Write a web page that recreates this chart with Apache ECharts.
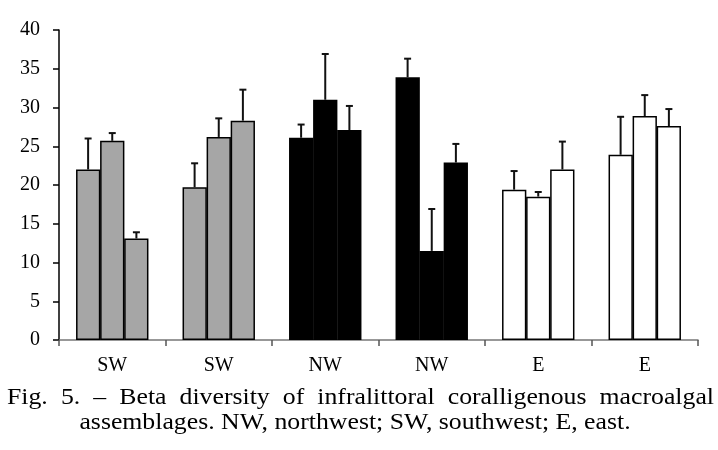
<!DOCTYPE html>
<html>
<head>
<meta charset="utf-8">
<script src="https://cdn.jsdelivr.net/npm/echarts@6/dist/echarts.min.js"></script>
<style>html,body{margin:0;padding:0;background:#fff;}#c{width:718px;height:450px;}</style>
</head>
<body>
<div id="c"></div>
<script>
var categories = ['SW', 'SW', 'NW', 'NW', 'E', 'E'];
var catColors = ['#a6a6a6', '#a6a6a6', '#000000', '#000000', '#ffffff', '#ffffff'];
var barA = [22.0, 19.7, 26.1, 33.9, 19.4, 23.9];
var barB = [25.7, 26.2, 31.0, 11.5, 18.5, 28.9];
var barC = [13.1, 28.3, 27.1, 22.9, 22.0, 27.6];
var errA = [4.0, 3.1, 1.7, 2.4, 2.4, 4.9];
var errB = [1.0, 2.4, 5.9, 5.4, 0.6, 2.7];
var errC = [0.8, 4.0, 3.1, 2.4, 3.6, 2.2];
var yTicks = [0, 5, 10, 15, 20, 25, 30, 35, 40];
var captionLine1 = 'Fig. 5. – Beta diversity of infralittoral coralligenous macroalgal';
var captionLine2 = 'assemblages. NW, northwest; SW, southwest; E, east.';

var FONT = '"Liberation Serif", "Times New Roman", serif';
var chart = echarts.init(document.getElementById('c'));
var GAP = 0.32;

function barSeries(vals) {
  return {
    type: 'bar',
    barGap: '-1%',
    barCategoryGap: (GAP * 100) + '%',
    data: vals.map(function (v, i) {
      var isBlack = catColors[i] === '#000000';
      return { value: v, itemStyle: { color: catColors[i], borderColor: '#000', borderWidth: isBlack ? 0 : 1.5 } };
    }),
    z: 2
  };
}

function errSeries(vals, errs, pos) {
  return {
    type: 'custom',
    z: 5,
    data: vals.map(function (v, i) { return [i, v, v + errs[i]]; }),
    renderItem: function (params, api) {
      var i = api.value(0);
      var base = api.coord([i, api.value(1)]);
      var top = api.coord([i, api.value(2)]);
      var catW = api.size([1, 0])[0];
      var bw = catW * (1 - GAP) / 3;
      var x = base[0] + (pos - 1) * bw;
      var hw = 3.5;
      return {
        type: 'group',
        children: [
          { type: 'line', shape: { x1: x, y1: base[1], x2: x, y2: top[1] }, style: { stroke: '#111', lineWidth: 2 } },
          { type: 'line', shape: { x1: x - hw, y1: top[1], x2: x + hw, y2: top[1] }, style: { stroke: '#111', lineWidth: 2 } }
        ]
      };
    }
  };
}

// caption graphics (justified first line, horizontally stretched like the scan)
var SX = 1.12;
var cv = document.createElement('canvas').getContext('2d');
var capFont = 23;
cv.font = capFont + 'px ' + FONT;
var words = captionLine1.split(' ');
var widths = words.map(function (w) { return cv.measureText(w).width * SX; });
var L = 7, R = 714;
var sum = widths.reduce(function (a, b) { return a + b; }, 0);
var gap = (R - L - sum) / (words.length - 1);
var graphics = [];
var xx = L;
words.forEach(function (w, k) {
  graphics.push({ type: 'text', x: xx, y: 398, scaleX: SX, style: { text: w, font: capFont + 'px ' + FONT, fill: '#000', align: 'left', verticalAlign: 'middle' } });
  xx += widths[k] + gap;
});
graphics.push({ type: 'text', x: 355, y: 423, scaleX: SX, style: { text: captionLine2, font: capFont + 'px ' + FONT, fill: '#000', align: 'center', verticalAlign: 'middle' } });

chart.setOption({
  animation: false,
  backgroundColor: '#fff',
  grid: { left: 59, right: 20, top: 30, bottom: 110 },
  xAxis: {
    type: 'category',
    data: categories,
    axisLine: { lineStyle: { color: '#777', width: 1.5 } },
    axisTick: { show: true, inside: false, length: 6, lineStyle: { color: '#555', width: 1.5 } },
    axisLabel: { color: '#000', fontFamily: FONT, fontSize: 20, margin: 16 },
    splitLine: { show: false }
  },
  yAxis: {
    type: 'value',
    min: yTicks[0],
    max: yTicks[yTicks.length - 1],
    interval: 5,
    axisLine: { show: true, lineStyle: { color: '#000', width: 1.5 } },
    axisTick: { show: true, inside: false, length: 6, lineStyle: { color: '#000', width: 1.5 } },
    axisLabel: { color: '#000', fontFamily: FONT, fontSize: 20, margin: 19 },
    splitLine: { show: false }
  },
  series: [
    barSeries(barA), barSeries(barB), barSeries(barC),
    errSeries(barA, errA, 0), errSeries(barB, errB, 1), errSeries(barC, errC, 2)
  ],
  graphic: graphics
});
</script>
</body>
</html>
